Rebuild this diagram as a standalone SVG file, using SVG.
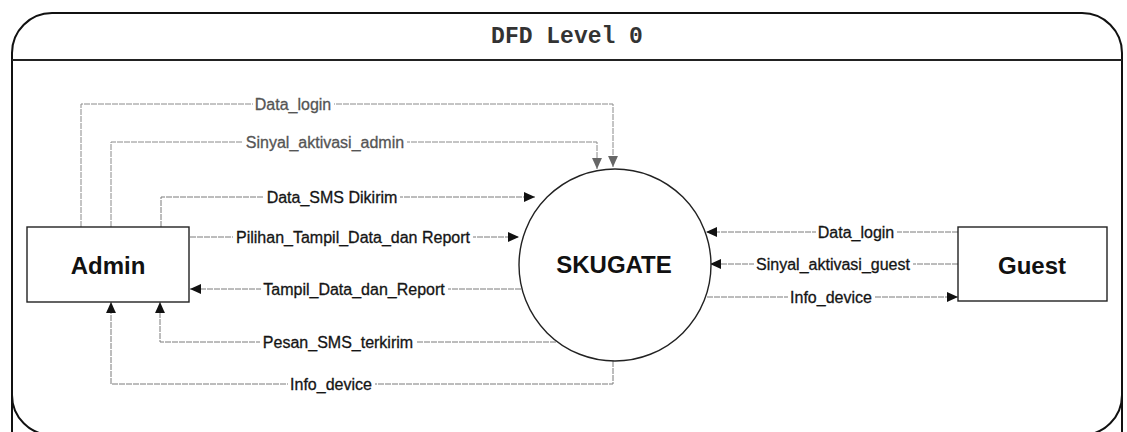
<svg xmlns="http://www.w3.org/2000/svg" width="1127" height="432" viewBox="0 0 1127 432">
<defs>
<style>
.frame{fill:none;stroke:#111;stroke-width:2}
.node{fill:#fff;stroke:#222;stroke-width:1.4}
.ntext{font-family:"Liberation Sans",Arial,sans-serif;font-weight:bold;font-size:24px;fill:#111;text-anchor:middle;dominant-baseline:central}
.flow{fill:none;stroke:#7a7a7a;stroke-width:1;stroke-dasharray:6 1}
.flowg{fill:none;stroke:#8a8a8a;stroke-width:1;stroke-dasharray:6 1}
.bg{fill:#fff}
.lbl{font-family:"Liberation Sans",Arial,sans-serif;font-size:16px;fill:#151515;stroke:#151515;stroke-width:0.3;text-anchor:middle;dominant-baseline:central}
.lblg{fill:#555;stroke:#555}
.title{font-family:"Liberation Mono","Courier New",monospace;font-weight:bold;font-size:23px;fill:#333;text-anchor:middle}
</style>
<marker id="ah" viewBox="0 0 10 10" refX="10" refY="5" markerWidth="11" markerHeight="11" markerUnits="userSpaceOnUse" orient="auto">
<path d="M0,0.5 L10,5 L0,9.5 Z" fill="#111"/>
</marker>
<marker id="ahg" viewBox="0 0 10 10" refX="10" refY="5" markerWidth="11" markerHeight="11" markerUnits="userSpaceOnUse" orient="auto">
<path d="M0,0.5 L10,5 L0,9.5 Z" fill="#666"/>
</marker>
</defs>
<rect width="1127" height="432" fill="#fff"/>
<g id="frame">
<path class="frame" d="M12,440 V53 A40,40 0 0 1 52,13 H1082 A40,40 0 0 1 1122,53 V440"/>
<path class="frame" d="M12,395 A40,40 0 0 0 52,435 M1082,435 A40,40 0 0 0 1122,395"/>
<line x1="12" y1="60" x2="1122" y2="60" stroke="#222" stroke-width="2"/>
<text class="title" x="567" y="43">DFD Level 0</text>
</g>
<g id="connectors">
<path class="flowg" d="M81,227 V104 H613 V167" marker-end="url(#ahg)"/>
<path class="flowg" d="M111,227 V142 H597 V169" marker-end="url(#ahg)"/>
<path class="flow" d="M161,227 V197 H535" marker-end="url(#ah)"/>
<path class="flow" d="M190,237 H519" marker-end="url(#ah)"/>
<path class="flow" d="M521,289 H190" marker-end="url(#ah)"/>
<path class="flow" d="M556,342 H160 V302" marker-end="url(#ah)"/>
<path class="flow" d="M613,361 V384 H111 V302" marker-end="url(#ah)"/>
<path class="flow" d="M958,232 H706" marker-end="url(#ah)"/>
<path class="flow" d="M958,264 H710" marker-end="url(#ah)"/>
<path class="flow" d="M707,297 H958" marker-end="url(#ah)"/>
<rect class="bg" x="253" y="95" width="81" height="18"/>
<rect class="bg" x="243" y="133" width="164" height="18"/>
<rect class="bg" x="264" y="188" width="136" height="18"/>
<rect class="bg" x="233" y="228" width="240" height="18"/>
<rect class="bg" x="261" y="280" width="187" height="18"/>
<rect class="bg" x="260" y="333" width="157" height="18"/>
<rect class="bg" x="288" y="375" width="87" height="18"/>
<rect class="bg" x="816" y="223" width="81" height="18"/>
<rect class="bg" x="754" y="255" width="159" height="18"/>
<rect class="bg" x="788" y="288" width="87" height="18"/>
<text class="lbl lblg" x="293" y="104">Data_login</text>
<text class="lbl lblg" x="325" y="142">Sinyal_aktivasi_admin</text>
<text class="lbl" x="332" y="197">Data_SMS Dikirim</text>
<text class="lbl" x="353" y="237">Pilihan_Tampil_Data_dan Report</text>
<text class="lbl" x="354" y="289">Tampil_Data_dan_Report</text>
<text class="lbl" x="338" y="342">Pesan_SMS_terkirim</text>
<text class="lbl" x="331" y="384">Info_device</text>
<text class="lbl" x="856" y="232">Data_login</text>
<text class="lbl" x="833" y="264">Sinyal_aktivasi_guest</text>
<text class="lbl" x="831" y="297">Info_device</text>
</g>
<g id="admin">
<rect class="node" x="27" y="227" width="162" height="75"/>
<text class="ntext" x="108" y="265">Admin</text>
</g>
<g id="skugate">
<circle class="node" cx="615" cy="265" r="96"/>
<text class="ntext" x="614" y="264">SKUGATE</text>
</g>
<g id="guest">
<rect class="node" x="958" y="227" width="149" height="74"/>
<text class="ntext" x="1032" y="265">Guest</text>
</g>
</svg>
